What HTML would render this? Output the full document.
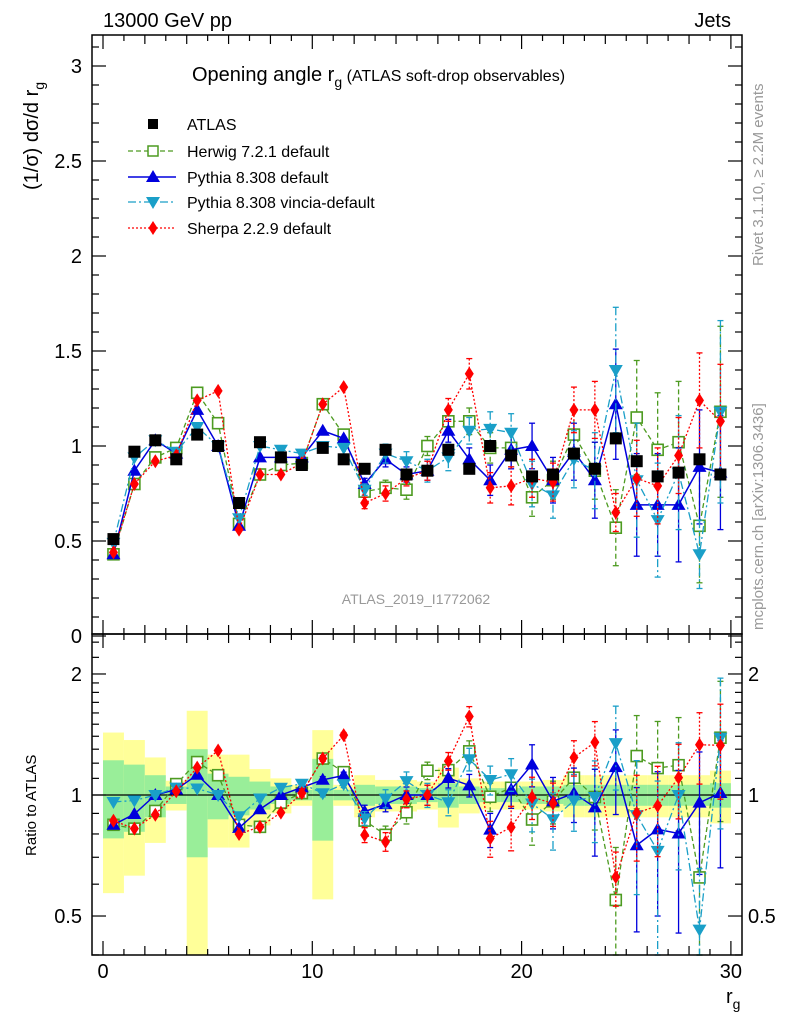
<!DOCTYPE html>
<html><head><meta charset="utf-8">
<style>
html,body{margin:0;padding:0;background:#fff;}
svg{display:block;font-family:"Liberation Sans",sans-serif;}
</style></head>
<body>
<svg id="chart" width="786" height="1024" viewBox="0 0 786 1024" xmlns="http://www.w3.org/2000/svg">
<rect x="0" y="0" width="786" height="1024" fill="#fff"/>
<g id="bands"></g>
<g id="ratio"></g>
<g id="main"></g>
<g id="axes"></g>
<text x="103" y="27" font-size="20">13000 GeV pp</text>
<text x="731" y="27" font-size="20" text-anchor="end">Jets</text>
<text x="192" y="81" font-size="20">Opening angle r<tspan font-size="14" dy="6">g</tspan><tspan font-size="16" dy="-6"> (ATLAS soft-drop observables)</tspan></text>
<text transform="translate(38,190) rotate(-90)" font-size="20">(1/σ) dσ/d r<tspan font-size="14" dy="6">g</tspan></text>
<text transform="translate(36,856) rotate(-90)" font-size="15">Ratio to ATLAS</text>
<text transform="translate(763,266) rotate(-90)" font-size="15" fill="#999">Rivet 3.1.10, ≥ 2.2M events</text>
<text transform="translate(763,630) rotate(-90)" font-size="15" fill="#999">mcplots.cern.ch [arXiv:1306.3436]</text>
<text x="416" y="604" font-size="14" fill="#999" text-anchor="middle">ATLAS_2019_I1772062</text>
<text x="726" y="1003" font-size="20">r<tspan font-size="14" dy="6">g</tspan></text>
<g id="legend"></g>
</svg>
<script>
const binCenters=[0.5,1.5,2.5,3.5,4.5,5.5,6.5,7.5,8.5,9.5,10.5,11.5,12.5,13.5,14.5,15.5,16.5,17.5,18.5,19.5,20.5,21.5,22.5,23.5,24.5,25.5,26.5,27.5,28.5,29.5];
const atlasVals=[0.51,0.97,1.03,0.93,1.06,1.0,0.70,1.02,0.94,0.90,0.99,0.93,0.88,0.98,0.85,0.87,0.98,0.88,1.0,0.95,0.84,0.85,0.96,0.88,1.04,0.92,0.84,0.86,0.93,0.85];
const atlasTotRel=[0.43,0.37,0.24,0.085,0.62,0.26,0.26,0.16,0.10,0.06,0.45,0.06,0.12,0.09,0.09,0.08,0.17,0.10,0.08,0.08,0.08,0.09,0.12,0.12,0.12,0.12,0.12,0.12,0.12,0.15];
const atlasStatRel=[0.22,0.19,0.12,0.05,0.30,0.13,0.11,0.08,0.05,0.03,0.23,0.03,0.06,0.05,0.05,0.04,0.07,0.05,0.04,0.04,0.05,0.05,0.06,0.06,0.06,0.06,0.06,0.06,0.06,0.07];
const herwigVals=[0.43,0.80,0.94,0.99,1.28,1.12,0.59,0.85,0.90,0.91,1.22,1.06,0.76,0.78,0.77,1.0,1.13,1.13,0.99,0.99,0.73,0.82,1.06,0.87,0.57,1.15,0.98,1.02,0.58,1.18];
const herwigErr=[0.01,0.01,0.01,0.01,0.015,0.015,0.01,0.015,0.015,0.02,0.02,0.02,0.03,0.04,0.05,0.05,0.06,0.07,0.08,0.1,0.1,0.1,0.12,0.15,0.2,0.3,0.3,0.32,0.3,0.45];
const pythiaVals=[0.43,0.87,1.03,0.96,1.19,1.0,0.58,0.94,0.94,0.94,1.08,1.04,0.80,0.93,0.85,0.87,1.08,0.93,0.82,0.98,1.0,0.82,0.97,0.82,1.22,0.69,0.69,0.69,0.89,0.86];
const pythiaErr=[0.01,0.01,0.01,0.01,0.015,0.015,0.01,0.015,0.015,0.02,0.02,0.02,0.03,0.04,0.04,0.05,0.06,0.06,0.08,0.1,0.12,0.12,0.15,0.2,0.29,0.27,0.27,0.3,0.3,0.3];
const vinciaVals=[0.49,0.94,1.03,0.97,1.10,1.0,0.62,1.0,0.98,0.96,1.0,0.99,0.77,0.96,0.92,0.87,0.94,1.08,1.09,1.07,0.80,0.74,0.93,0.87,1.40,0.82,0.61,0.86,0.43,1.18];
const vinciaErr=[0.01,0.01,0.01,0.01,0.015,0.015,0.01,0.015,0.015,0.02,0.02,0.02,0.03,0.05,0.05,0.06,0.07,0.07,0.09,0.1,0.12,0.12,0.15,0.2,0.33,0.3,0.3,0.3,0.18,0.48];
const sherpaVals=[0.44,0.80,0.92,0.95,1.24,1.29,0.56,0.85,0.85,0.91,1.22,1.31,0.70,0.75,0.83,0.87,1.19,1.38,0.78,0.79,0.83,0.81,1.19,1.19,0.65,0.83,0.79,0.95,1.24,1.13];
const sherpaErr=[0.01,0.01,0.01,0.01,0.015,0.015,0.01,0.015,0.015,0.02,0.02,0.02,0.03,0.04,0.04,0.05,0.06,0.08,0.08,0.1,0.1,0.1,0.12,0.15,0.1,0.2,0.2,0.2,0.25,0.3];
const mainYTicks=["0","0.5","1","1.5","2","2.5","3"];
const ratioYTicks=["0.5","1","2"];
const xTicks=["0","10","20","30"];

const NS="http://www.w3.org/2000/svg";
const L=92,R=742,T=35,MB=634,RB=955;
function X(v){return 103+v*20.93;}
function Y(v){return 636-v*190;}
function RY(r){return 795-402*Math.log10(r);}
function clipR(y){return Math.max(MB,Math.min(RB,y));}
function clipM(y){return Math.max(T,Math.min(MB,y));}
function mk(tag,attrs,parent){const e=document.createElementNS(NS,tag);for(const k in attrs)e.setAttribute(k,attrs[k]);parent.appendChild(e);return e;}

const series=[
 {key:"herwig",vals:herwigVals,err:herwigErr,color:"#4d9b21",dash:"5,3",marker:"sq",label:"Herwig 7.2.1 default",w:1.3},
 {key:"pythia",vals:pythiaVals,err:pythiaErr,color:"#0000dd",dash:"",marker:"up",label:"Pythia 8.308 default",w:1.5},
 {key:"vincia",vals:vinciaVals,err:vinciaErr,color:"#1a9fc8",dash:"8,3,2,3",marker:"dn",label:"Pythia 8.308 vincia-default",w:1.3},
 {key:"sherpa",vals:sherpaVals,err:sherpaErr,color:"#ff0000",dash:"2,2",marker:"dm",label:"Sherpa 2.2.9 default",w:1.3}
];

function marker(type,x,y,color,parent){
 let e;
 if(type==="sq") e=mk("rect",{x:x-5.5,y:y-5.5,width:11,height:11,fill:"#fff",stroke:color,"stroke-width":1.6},parent);
 else if(type==="up") e=mk("polygon",{points:`${x},${y-7} ${x-7},${y+5} ${x+7},${y+5}`,fill:color},parent);
 else if(type==="dn") e=mk("polygon",{points:`${x},${y+7} ${x-7},${y-5} ${x+7},${y-5}`,fill:color},parent);
 else if(type==="dm") e=mk("polygon",{points:`${x},${y-7} ${x-4.5},${y} ${x},${y+7} ${x+4.5},${y}`,fill:color},parent);
 else if(type==="data") e=mk("rect",{x:x-6,y:y-6,width:12,height:12,fill:"#000"},parent);
 return e;
}

const bands=document.getElementById("bands");
binCenters.forEach((c,i)=>{
 const x0=X(c-0.5),x1=X(c+0.5);
 const t=atlasTotRel[i],s=atlasStatRel[i];
 const yt=clipR(RY(1+t)),yb=clipR(RY(Math.max(1-t,0.01)));
 const b=mk("rect",{x:x0,y:yt,width:x1-x0,height:yb-yt,fill:"#ffff99"},bands);
 
 
 const st=clipR(RY(1+s)),sb=clipR(RY(1-s));
 const g=mk("rect",{x:x0,y:st,width:x1-x0,height:sb-st,fill:"#99ee99"},bands);
 
 
});
mk("line",{x1:L,x2:R,y1:RY(1),y2:RY(1),stroke:"#000","stroke-width":1.2},bands);

const main=document.getElementById("main");
const ratio=document.getElementById("ratio");
series.forEach(s=>{
 const gm=mk("g",{},main);
 
 
 const gr=mk("g",{},ratio);
 
 
 const pts=binCenters.map((c,i)=>`${X(c)},${Y(s.vals[i])}`).join(" ");
 mk("polyline",{points:pts,fill:"none",stroke:s.color,"stroke-width":s.w,"stroke-dasharray":s.dash},gm);
 const rpts=binCenters.map((c,i)=>`${X(c)},${clipR(RY(s.vals[i]/atlasVals[i]))}`).join(" ");
 mk("polyline",{points:rpts,fill:"none",stroke:s.color,"stroke-width":s.w,"stroke-dasharray":s.dash},gr);
 binCenters.forEach((c,i)=>{
  const x=X(c),v=s.vals[i],e=s.err[i];
  const y1=clipM(Y(v+e)),y2=clipM(Y(v-e));
  mk("line",{x1:x,x2:x,y1:y1,y2:y2,stroke:s.color,"stroke-width":1.3,"stroke-dasharray":s.dash},gm);
  if(e>0.02){mk("line",{x1:x-3,x2:x+3,y1:y1,y2:y1,stroke:s.color,"stroke-width":1.3},gm);mk("line",{x1:x-3,x2:x+3,y1:y2,y2:y2,stroke:s.color,"stroke-width":1.3},gm);}
  const m=marker(s.marker,x,Y(v),s.color,gm);
  
  
  const r=v/atlasVals[i],re=e/atlasVals[i];
  const ry1=clipR(RY(r+re)),ry2=clipR(RY(Math.max(r-re,0.01)));
  mk("line",{x1:x,x2:x,y1:ry1,y2:ry2,stroke:s.color,"stroke-width":1.3,"stroke-dasharray":s.dash},gr);
  if(re>0.02){mk("line",{x1:x-3,x2:x+3,y1:ry1,y2:ry1,stroke:s.color,"stroke-width":1.3},gr);mk("line",{x1:x-3,x2:x+3,y1:ry2,y2:ry2,stroke:s.color,"stroke-width":1.3},gr);}
  const ry=RY(r);
  if(ry>=MB&&ry<=RB){const rm=marker(s.marker,x,ry,s.color,gr);
   
   }
 });
});
const gd=mk("g",{},main);


binCenters.forEach((c,i)=>{
 const d=marker("data",X(c),Y(atlasVals[i]),"#000",gd);
 
 
});

const ax=document.getElementById("axes");
mk("rect",{x:L,y:T,width:R-L,height:MB-T,fill:"none",stroke:"#000","stroke-width":1.5},ax);
mk("rect",{x:L,y:MB,width:R-L,height:RB-MB,fill:"none",stroke:"#000","stroke-width":1.5},ax);
for(let k=0;k<=31;k++){
 const v=k*0.1,y=Y(v);if(y<T)break;
 const major=(k%5===0),len=major?14:7;
 mk("line",{x1:L,x2:L+len,y1:y,y2:y,stroke:"#000","stroke-width":1.2},ax);
 mk("line",{x1:R,x2:R-len,y1:y,y2:y,stroke:"#000","stroke-width":1.2},ax);
}
mainYTicks.forEach(t=>{
 const tx=mk("text",{x:82,y:Y(parseFloat(t))+7,"font-size":20,"text-anchor":"end"},ax);tx.textContent=t;
 
 
});
for(let k=0;k<=30;k++){
 const x=X(k),len=(k%10===0)?14:(k%2===0?9:6);
 [MB,RB].forEach(yb=>mk("line",{x1:x,x2:x,y1:yb,y2:yb-len,stroke:"#000","stroke-width":1.2},ax));
 mk("line",{x1:x,x2:x,y1:T,y2:T+len,stroke:"#000","stroke-width":1.2},ax);
 mk("line",{x1:x,x2:x,y1:MB,y2:MB+len,stroke:"#000","stroke-width":1.2},ax);
}
xTicks.forEach(t=>{
 const tx=mk("text",{x:X(parseFloat(t)),y:978,"font-size":20,"text-anchor":"middle"},ax);tx.textContent=t;
 
 
});
[0.4,0.5,0.6,0.7,0.8,0.9,1,1.1,1.2,1.3,1.4,1.5,1.6,1.7,1.8,1.9,2,2.2,2.4].forEach(r=>{
 const y=RY(r);if(y<MB||y>RB)return;
 const major=(r===0.5||r===1||r===2),len=major?14:7;
 mk("line",{x1:L,x2:L+len,y1:y,y2:y,stroke:"#000","stroke-width":1.2},ax);
 mk("line",{x1:R,x2:R-len,y1:y,y2:y,stroke:"#000","stroke-width":1.2},ax);
});
ratioYTicks.forEach(t=>{
 const y=RY(parseFloat(t))+7;
 const a=mk("text",{x:82,y:y,"font-size":20,"text-anchor":"end"},ax);a.textContent=t;
 
 
 const b=mk("text",{x:748,y:y,"font-size":20},ax);b.textContent=t;
 
 
});

const lg=document.getElementById("legend");
const rows=[124,151,177,202,228];
const d0=mk("g",{},lg);


mk("rect",{x:148,y:rows[0]-5,width:10,height:10,fill:"#000"},d0);
const t0=mk("text",{x:187,y:rows[0]+6,"font-size":16},d0);t0.textContent="ATLAS";
series.forEach((s,i)=>{
 const y=rows[i+1];
 const g=mk("g",{},lg);
 
 
 mk("line",{x1:128,x2:176,y1:y,y2:y,stroke:s.color,"stroke-width":s.w,"stroke-dasharray":s.dash},g);
 const m=s.marker;
 if(m==="sq")mk("rect",{x:148,y:y-5,width:10,height:10,fill:"#fff",stroke:s.color,"stroke-width":1.5},g);
 else marker(m,153,y,s.color,g);
 const t=mk("text",{x:187,y:y+6,"font-size":16},g);t.textContent=s.label;
});
</script>
</body></html>
